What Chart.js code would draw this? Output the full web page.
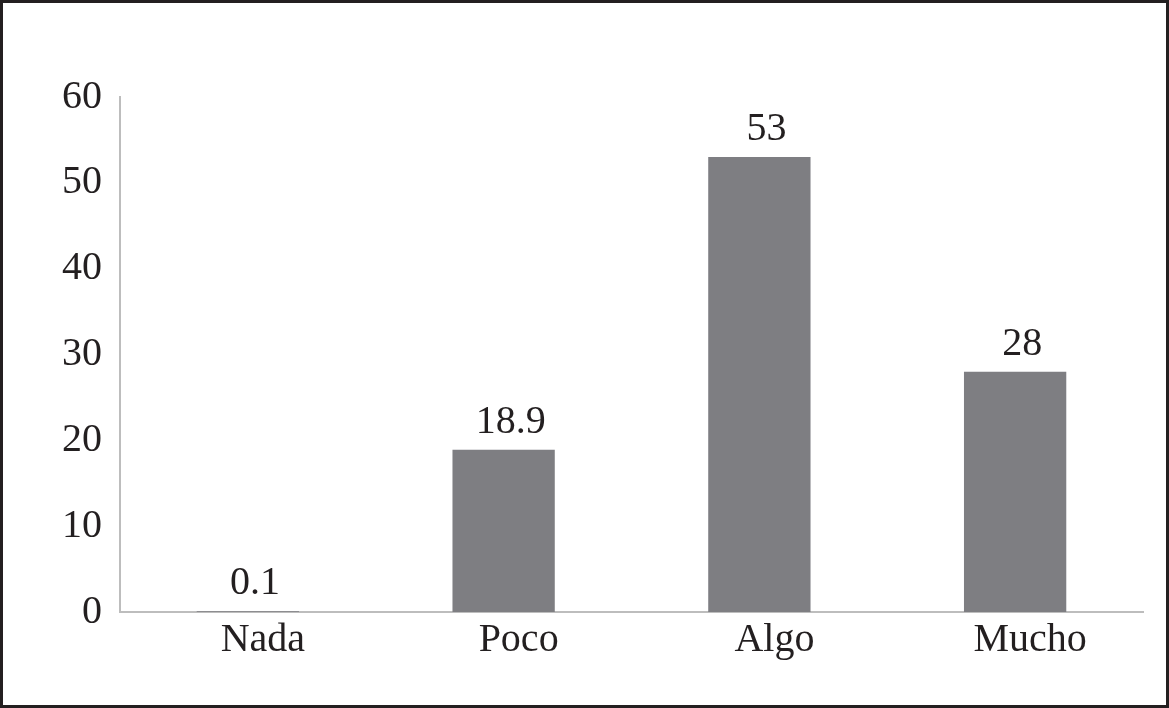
<!DOCTYPE html>
<html>
<head>
    <title>Nada / Poco / Algo / Mucho</title>
    <script src="https://cdn.jsdelivr.net/npm/chart.js"></script>
    <style>
        html, body { margin: 0; padding: 0; background: #fff; }
        #frame {
            width: 1169px; height: 708px;
            box-sizing: border-box;
            border: 3px solid #231f20;
            background: #fff;
        }
        #myChart { display: block; }
    </style>
</head>
<body>
    <div id="frame">
        <canvas id="myChart" width="1163" height="702"></canvas>
    </div>

    <script>
        // chart data
        const categories = ['Nada', 'Poco', 'Algo', 'Mucho'];
        const values = [0.1, 18.9, 53, 28];
        const valueLabels = ['0.1', '18.9', '53', '28'];
        const yTicks = [0, 10, 20, 30, 40, 50, 60];

        const textColor = '#231f20';
        const axisColor = '#bdbdbd';
        const fontFamily = '"Liberation Serif", "Times New Roman", serif';
        const fontSize = 40;

        // draws the number above each bar
        const valueLabelPlugin = {
            id: 'valueLabels',
            afterDatasetsDraw(chart) {
                const ctx = chart.ctx;
                const meta = chart.getDatasetMeta(0);
                ctx.save();
                ctx.font = fontSize + 'px ' + fontFamily;
                ctx.fillStyle = textColor;
                ctx.textAlign = 'center';
                ctx.textBaseline = 'alphabetic';
                meta.data.forEach((bar, i) => {
                    ctx.fillText(valueLabels[i], bar.x + 7, bar.y - 17);
                });
                ctx.restore();
            }
        };

        var ctx = document.getElementById('myChart').getContext('2d');
        var myChart = new Chart(ctx, {
            type: 'bar',
            data: {
                labels: categories,
                datasets: [{
                    data: values,
                    backgroundColor: '#7e7e82',
                    borderWidth: 0,
                    barPercentage: 0.4,
                    categoryPercentage: 1.0
                }]
            },
            options: {
                responsive: false,
                animation: false,
                layout: {
                    padding: { left: 0, right: 23, top: 94, bottom: 0 }
                },
                plugins: {
                    legend: { display: false },
                    tooltip: { enabled: false }
                },
                scales: {
                    x: {
                        grid: { display: false, drawTicks: false },
                        border: { display: true, color: axisColor, width: 2 },
                        ticks: {
                            color: textColor,
                            font: { family: fontFamily, size: fontSize },
                            padding: 4,
                            labelOffset: 15,
                            maxRotation: 0
                        },
                        afterFit(scale) { scale.height = 93; }
                    },
                    y: {
                        min: 0,
                        max: 60,
                        afterBuildTicks(scale) {
                            scale.ticks = yTicks.map(v => ({ value: v }));
                        },
                        grid: { display: false, drawTicks: false },
                        border: { display: true, color: axisColor, width: 2 },
                        ticks: {
                            color: textColor,
                            font: { family: fontFamily, size: fontSize },
                            padding: 18
                        },
                        afterFit(scale) { scale.width = 117; }
                    }
                }
            },
            plugins: [valueLabelPlugin]
        });
    </script>
</body>
</html>
